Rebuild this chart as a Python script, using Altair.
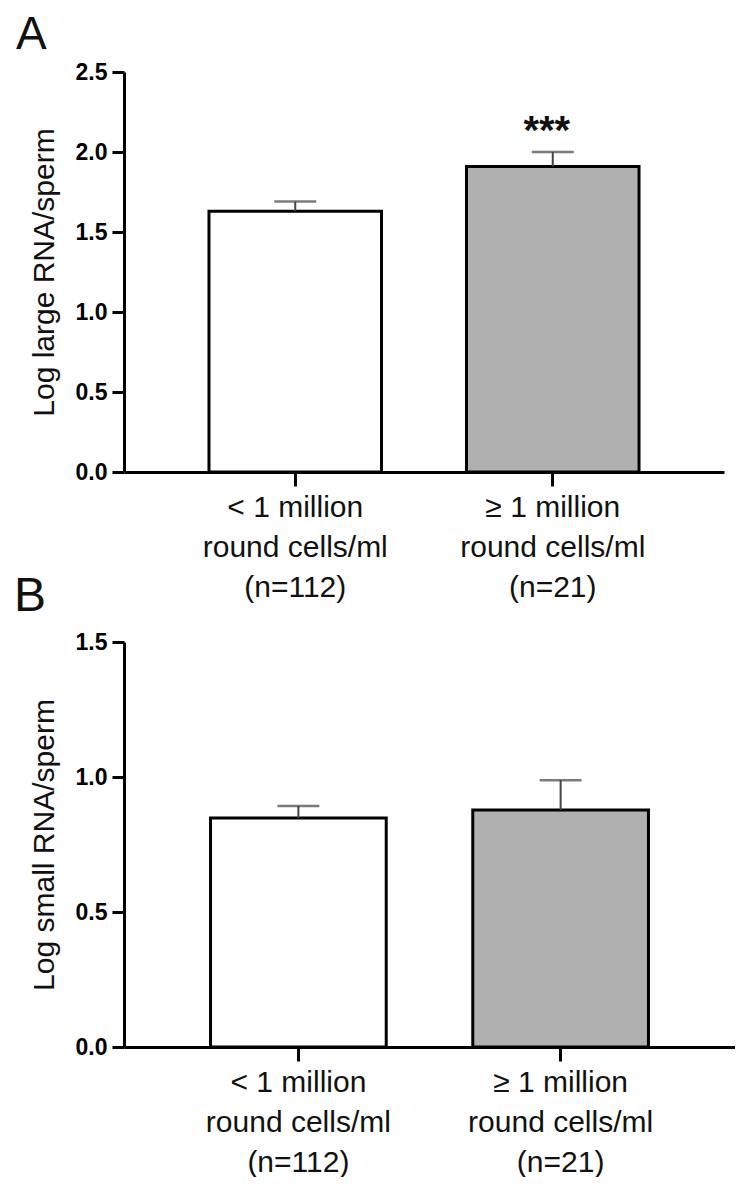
import altair as alt
import pandas as pd

FONT = "Liberation Sans"

# ---- data ----
line1 = ["< 1 million", "≥ 1 million"]
line2 = ["round cells/ml", "round cells/ml"]
line3 = ["(n=112)", "(n=21)"]
groups = [f"{a}\n{b}\n{c}" for a, b, c in zip(line1, line2, line3)]
fills = ["#ffffff", "#b0b0b0"]

large_mean = [1.63, 1.91]
large_err = [0.06, 0.09]
large_sig = ["", "***"]

small_mean = [0.848, 0.878]
small_err = [0.045, 0.11]
small_sig = ["", ""]

panel_labels = ["A", "B"]
y_ticks_a = [0.0, 0.5, 1.0, 1.5, 2.0, 2.5]
y_ticks_b = [0.0, 0.5, 1.0, 1.5]


def panel(mean, err, sig, ymax, yticks, ytitle, width, height):
    df = pd.DataFrame({
        "group": groups,
        "mean": mean,
        "upper": [m + e for m, e in zip(mean, err)],
        "sig": sig,
        "fill": fills,
    })
    x = alt.X(
        "group:N", sort=groups,
        scale=alt.Scale(paddingInner=0.33, paddingOuter=0.33),
        axis=alt.Axis(
            title=None, labelAngle=0,
            labelExpr="split(datum.label, '\\n')",
            labelFont=FONT, labelFontSize=30, labelLineHeight=40,
            labelColor="#111", labelPadding=6, labelLimit=0,
            tickSize=14, tickWidth=3, tickColor="black",
            domainWidth=3, domainColor="black",
        ),
    )
    yscale = alt.Scale(domain=[0, ymax], nice=False)
    yaxis = alt.Axis(
        values=yticks, format=".1f", title=ytitle,
        titleFont=FONT, titleFontSize=30, titleFontWeight="normal",
        titleColor="#111", titlePadding=16,
        labelFont=FONT, labelFontSize=23, labelFontWeight="bold",
        labelColor="black", labelPadding=5,
        tickSize=12, tickWidth=3, tickColor="black",
        domainWidth=3, domainColor="black", grid=False,
    )
    base = alt.Chart(df)
    bars = base.mark_bar(stroke="black", strokeWidth=3).encode(
        x=x,
        y=alt.Y("mean:Q", scale=yscale, axis=yaxis),
        fill=alt.Fill("fill:N", scale=None),
    )
    rule = base.mark_rule(color="#444", strokeWidth=2).encode(
        x="group:N", y="mean:Q", y2="upper:Q")
    cap = base.mark_tick(color="#444", size=42, thickness=2.5).encode(
        x="group:N", y="upper:Q")
    stars = base.mark_text(
        font=FONT, fontSize=40, fontWeight="bold", baseline="alphabetic",
        dy=-8, dx=-6, color="#111",
    ).encode(x="group:N", y="upper:Q", text="sig:N")
    return (bars + rule + cap + stars).properties(width=width, height=height)


chart_a = panel(large_mean, large_err, large_sig, 2.5, y_ticks_a,
                "Log large RNA/sperm", 600, 400)
b_label = alt.Chart(pd.DataFrame({"label": [panel_labels[1]]})).mark_text(
    font=FONT, fontSize=48, align="left", baseline="alphabetic", color="#111"
).encode(text="label:N", x=alt.value(-110), y=alt.value(539))
chart_a = (chart_a + b_label).properties(
    title=alt.TitleParams(panel_labels[0], anchor="start", frame="bounds",
                          font=FONT, fontSize=46, fontWeight="normal",
                          color="#111", offset=2, dx=2)
)

chart_b = panel(small_mean, small_err, small_sig, 1.5, y_ticks_b,
                "Log small RNA/sperm", 611, 405)

chart = alt.vconcat(chart_a, chart_b, spacing=10).properties(
    padding={"left": 6, "top": 4, "right": 0, "bottom": 0}
).configure_view(stroke=None)

chart.save("out.html", embed_options={"renderer": "svg", "actions": False})
